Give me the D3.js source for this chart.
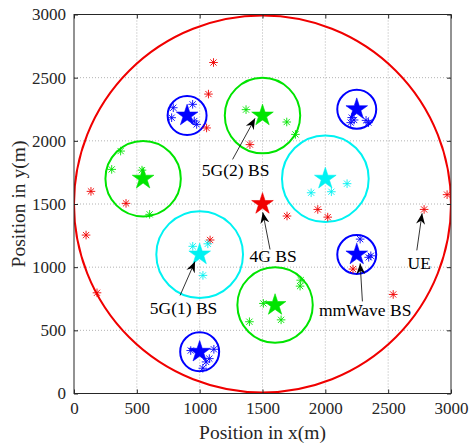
<!DOCTYPE html>
<html><head><meta charset="utf-8">
<script src="https://cdn.jsdelivr.net/npm/d3@7"></script>
<style>body{margin:0;background:#fff} svg{display:block} text{font-family:"Liberation Serif","Times New Roman",serif}</style>
</head><body>
<svg id="chart" width="469" height="445"></svg>
<script>
// ---------- data ----------
const xTicks = [0, 500, 1000, 1500, 2000, 2500, 3000];
const yTicks = [0, 500, 1000, 1500, 2000, 2500, 3000];
const xLabel = "Position in x(m)";
const yLabel = "Position in y(m)";

const bs4G  = [[1500, 1500]];
const r4G   = 1500;
const bs5G1 = [[1000, 1100], [2000, 1700]];
const r5G1  = 345;
const bs5G2 = [[550, 1700], [1500, 2200], [1600, 700]];
const r5G2  = 300;
const bsMM  = [[900, 2200], [2250, 2250], [2250, 1100], [1000, 330]];
const rMM   = 155;

const ue4G = [[1110, 2620], [1070, 2370], [1055, 2102], [1400, 1970], [135, 1600], [414, 1505],
              [96, 1254], [183, 797], [1083, 1215], [1695, 1405], [1940, 1457], [2019, 1396],
              [2786, 1457], [2969, 1574], [2540, 784], [2220, 985]];
const ue5G1 = [[1887, 1589], [2048, 1597], [2173, 1661], [945, 1165], [1065, 1185], [1026, 935]];
const ue5G2 = [[371, 1919], [300, 1774], [541, 1768], [602, 1418], [1369, 2247], [1693, 2149],
               [1762, 2051], [1507, 713], [1396, 568], [1648, 583], [1804, 897], [1799, 850]];
const ueMM = [[790, 2262], [777, 2183], [944, 2289], [957, 2157], [976, 2130],
              [2202, 2144], [2229, 2165], [2210, 2184], [2324, 2162], [2343, 2144],
              [2277, 1222], [2362, 1090], [2345, 1078],
              [929, 340], [1113, 350], [1077, 276], [1051, 250], [1025, 200]];

// annotation: text, text centre (data), arrow tail (data), arrow tip (data)
const annotations = [
  {text: "5G(2) BS",  t: [1286, 1766], from: [1262, 1853], to: [1441, 2178]},
  {text: "4G BS",     t: [1584, 1087], from: [1560, 1140], to: [1502, 1434]},
  {text: "5G(1) BS",  t: [872, 673],   from: [844, 776],   to: [963, 1045]},
  {text: "mmWave BS", t: [2317, 657],  from: [2295, 729],  to: [2277, 1030]},
  {text: "UE",        t: [2747, 1035], from: [2728, 1133], to: [2770, 1426]}
];

// ---------- drawing ----------
const RED = "#f00000", GREEN = "#00e400", CYAN = "#00f2f2", BLUE = "#0000ff";
const svg = d3.select("#chart");
const x = d3.scaleLinear().domain([0, 3000]).range([74, 451]);
const y = d3.scaleLinear().domain([0, 3000]).range([393.5, 14.5]);
const rpx = r => x(r) - x(0);

svg.append("defs").append("marker")
  .attr("id", "ah").attr("markerUnits", "userSpaceOnUse")
  .attr("viewBox", "-11 -5 11 10").attr("refX", 0).attr("refY", 0)
  .attr("markerWidth", 11).attr("markerHeight", 10).attr("orient", "auto")
  .append("path").attr("d", "M0,0 L-11,-4.5 L-7.5,0 L-11,4.5 Z").attr("fill", "#000");

// grid
const grid = svg.append("g").attr("stroke", "#a0a0a0").attr("stroke-width", 0.8)
  .attr("stroke-dasharray", "1,2");
grid.selectAll(".gx").data(xTicks.slice(1, -1)).join("line")
  .attr("x1", d => x(d)).attr("x2", d => x(d)).attr("y1", y(0)).attr("y2", y(3000));
grid.selectAll(".gy").data(yTicks.slice(1, -1)).join("line")
  .attr("y1", d => y(d)).attr("y2", d => y(d)).attr("x1", x(0)).attr("x2", x(3000));

// clip for plot
svg.append("clipPath").attr("id", "clip").append("rect")
  .attr("x", x(0)).attr("y", y(3000)).attr("width", x(3000) - x(0)).attr("height", y(0) - y(3000));
const plot = svg.append("g").attr("clip-path", "url(#clip)");

function circles(data, r, color) {
  plot.append("g").selectAll("circle").data(data).join("circle")
    .attr("cx", d => x(d[0])).attr("cy", d => y(d[1])).attr("r", rpx(r))
    .attr("fill", "none").attr("stroke", color).attr("stroke-width", 2);
}
circles(bs4G, r4G, RED);
circles(bs5G2, r5G2, GREEN);
circles(bs5G1, r5G1, CYAN);
circles(bsMM, rMM, BLUE);

const star = d3.symbol().type(d3.symbolStar).size(145);
function stars(data, color) {
  plot.append("g").selectAll("path").data(data).join("path")
    .attr("transform", d => `translate(${x(d[0])},${y(d[1])})`)
    .attr("d", star).attr("fill", color).attr("stroke", color).attr("stroke-width", 0.6);
}
const ast = "M-4.3,0H4.3M0,-4.3V4.3M-3.1,-3.1L3.1,3.1M-3.1,3.1L3.1,-3.1";
function asterisks(data, color) {
  plot.append("g").selectAll("path").data(data).join("path")
    .attr("transform", d => `translate(${x(d[0])},${y(d[1])})`)
    .attr("d", ast).attr("fill", "none").attr("stroke", color).attr("stroke-width", 0.9);
}
stars(bs5G2, GREEN);
stars(bs5G1, CYAN);
stars(bsMM, BLUE);
stars(bs4G, RED);
asterisks(ue4G, RED);
asterisks(ue5G2, GREEN);
asterisks(ue5G1, CYAN);
asterisks(ueMM, BLUE);

// annotations
const ann = svg.append("g");
ann.selectAll("line").data(annotations).join("line")
  .attr("x1", d => x(d.from[0])).attr("y1", d => y(d.from[1]))
  .attr("x2", d => x(d.to[0])).attr("y2", d => y(d.to[1]))
  .attr("stroke", "#000").attr("stroke-width", 0.8).attr("marker-end", "url(#ah)");
ann.selectAll("text").data(annotations).join("text")
  .attr("x", d => x(d.t[0])).attr("y", d => y(d.t[1]))
  .attr("text-anchor", "middle").attr("dy", "0.33em")
  .attr("font-size", 17.5).attr("fill", "#000")
  .text(d => d.text);

// axes box and ticks
const ax = "#262626";
const axes = svg.append("g");
axes.append("rect").attr("x", x(0)).attr("y", y(3000))
  .attr("width", x(3000) - x(0)).attr("height", y(0) - y(3000))
  .attr("fill", "none").attr("stroke", ax).attr("stroke-width", 1);
const tl = 4;
const axB = d3.axisBottom(x).tickValues(xTicks).tickSize(-tl).tickPadding(8).tickFormat(d3.format("d"));
const axT = d3.axisTop(x).tickValues(xTicks).tickSize(-tl).tickFormat("");
const axL = d3.axisLeft(y).tickValues(yTicks).tickSize(-tl).tickPadding(8).tickFormat(d3.format("d"));
const axR = d3.axisRight(y).tickValues(yTicks).tickSize(-tl).tickFormat("");
function styleAxis(g) {
  g.attr("font-family", null);
  g.select(".domain").remove();
  g.selectAll(".tick line").attr("stroke", ax);
  g.selectAll(".tick text").attr("fill", ax).attr("font-size", 17);
}
axes.append("g").attr("transform", `translate(0,${y(0)})`).call(axB).call(styleAxis);
axes.append("g").attr("transform", `translate(0,${y(3000)})`).call(axT).call(styleAxis);
axes.append("g").attr("transform", `translate(${x(0)},0)`).call(axL).call(styleAxis);
axes.append("g").attr("transform", `translate(${x(3000)},0)`).call(axR).call(styleAxis);

svg.append("text").attr("x", (x(0) + x(3000)) / 2).attr("y", 439)
  .attr("text-anchor", "middle").attr("font-size", 19.5)
  .attr("fill", ax).text(xLabel);
svg.append("text").attr("transform", `translate(25,${(y(0) + y(3000)) / 2}) rotate(-90)`)
  .attr("text-anchor", "middle").attr("font-size", 19.5)
  .attr("fill", ax).text(yLabel);
</script>
</body></html>
